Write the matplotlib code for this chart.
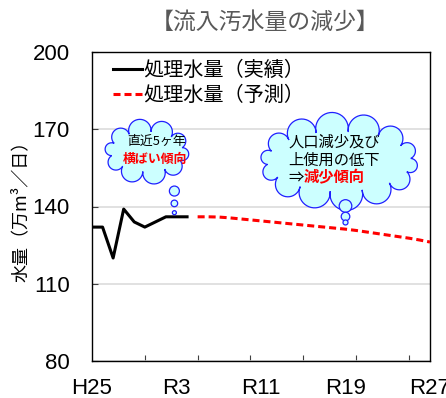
import numpy as np
import matplotlib
matplotlib.use("Agg")
import matplotlib.pyplot as plt
from matplotlib.patches import Polygon, Circle
from matplotlib.transforms import ScaledTranslation

plt.rcParams['font.family'] = ['Noto Sans CJK JP', 'DejaVu Sans']
NUM_FONT = ['Liberation Sans', 'DejaVu Sans']

# 処理水量（実績） 万m3/日
years_act = [2013, 2014, 2015, 2016, 2017, 2018, 2019, 2020, 2021, 2022]
flow_act = [132, 132, 120, 139, 134, 132, 134, 136, 136, 136]

# 処理水量（予測）
years_fc = list(range(2023, 2046))
flow_fc = [136.0, 136.0, 135.9, 135.6, 135.2, 134.8, 134.4, 134.0, 133.6,
           133.2, 132.8, 132.4, 132.0, 131.6, 131.2, 130.7, 130.1, 129.5,
           128.9, 128.3, 127.7, 127.0, 126.2]

xlabel_years = [2013, 2021, 2029, 2037, 2045]
xlabel_text = ['H25', 'R3', 'R11', 'R19', 'R27']
xminor_years = [2018, 2023, 2028, 2033, 2038, 2043]
yticks = [80, 110, 140, 170, 200]

fig = plt.figure(figsize=(4.46, 3.98), dpi=100)
ax = fig.add_axes([92 / 446, 37 / 398, 338 / 446, 309 / 398])

ax.plot(years_act, flow_act, color='black', lw=2.2, zorder=4,
        label='処理水量（実績）')
ax.plot(years_fc, flow_fc, color='#FF0000', lw=2.2, dashes=[2.3, 1.3],
        zorder=4, label='処理水量（予測）')

ax.set_xlim(2013, 2045)
ax.set_ylim(80, 200)
ax.set_yticks(yticks)
ax.set_xticks(xlabel_years)
ax.set_xticklabels(xlabel_text)
ax.set_xticks(xminor_years, minor=True)
ax.tick_params(axis='x', which='major', length=0, pad=12, labelsize=16)
ax.tick_params(axis='x', which='minor', direction='in', length=4.5,
               width=0.8, color='#404040')
ax.tick_params(axis='y', direction='in', length=4.5, width=0.8,
               color='#404040', pad=16, labelsize=16)
for lab in ax.get_xticklabels() + ax.get_yticklabels():
    lab.set_family(NUM_FONT)
ax.grid(axis='y', color='#D9D9D9', lw=1.1)
ax.set_axisbelow(True)
for sp in ax.spines.values():
    sp.set_linewidth(1.0)

ax.set_ylabel('水量（万m³／日）', fontsize=13)
ax.yaxis.label.set_va('center')
ax.yaxis.set_label_coords(-0.21, 0.5)

leg = ax.legend(loc='upper left', bbox_to_anchor=(0.062, 0.975), frameon=False,
                fontsize=14.5, handlelength=1.45, handletextpad=0.05,
                labelspacing=0.22, borderpad=0, borderaxespad=0)

fig.text(265 / 446, 1 - 22 / 398, '【流入汚水量の減少】', fontsize=16.5,
         color='#595959', ha='center', va='center')


def cloud(center, a, b, n, sweep=205, phase=0.2):
    t = np.linspace(0, 2 * np.pi, n, endpoint=False) + phase
    px, py = a * np.cos(t), b * np.sin(t)
    sw = np.radians(sweep)
    verts = []
    for i in range(n):
        p0 = np.array([px[i], py[i]])
        p1 = np.array([px[(i + 1) % n], py[(i + 1) % n]])
        d = p1 - p0
        c = np.hypot(*d)
        nrm = np.array([d[1], -d[0]]) / c
        r = c / 2 / np.sin(sw / 2)
        ctr = (p0 + p1) / 2 - nrm * r * np.cos(sw / 2)
        a0 = np.arctan2(p0[1] - ctr[1], p0[0] - ctr[0])
        ang = a0 + np.linspace(0, sw, 24)
        verts.extend(np.column_stack([ctr[0] + r * np.cos(ang),
                                      ctr[1] + r * np.sin(ang)]))
    tr = ScaledTranslation(center[0], center[1], ax.transData)
    ax.add_patch(Polygon(verts, closed=True, fc='#CCFFFF', ec='#2020FF',
                         lw=0.9, transform=tr, zorder=5, clip_on=False))


def bubbles(pts):
    for x, y, r in pts:
        tr = ScaledTranslation(x, y, ax.transData)
        ax.add_patch(Circle((0, 0), r, fc='#CCFFFF', ec='#2020FF', lw=0.9,
                            transform=tr, zorder=5, clip_on=False))


# 吹き出し（左）
cloud((2018.2, 161.3), 36, 20, 10)
bubbles([(2020.8, 146.0, 5.0), (2020.8, 141.2, 3.3), (2020.8, 137.6, 2.0)])
ax.text(2019.1, 165.3, '直近5ヶ年', fontsize=9.3, ha='center', va='center',
        zorder=6)
ax.text(2019.0, 158.6, '横ばい傾向', fontsize=9.3, color='#FF0000',
        fontweight='bold', ha='center', va='center', zorder=6)

# 吹き出し（右）
cloud((2036.4, 157.5), 72, 30, 14, phase=0.1)
bubbles([(2037.0, 140.2, 6.3), (2037.0, 136.1, 4.3), (2037.0, 133.8, 2.5)])
ax.text(2031.6, 165.0, '人口減少及び', fontsize=11, ha='left', va='center',
        zorder=6)
ax.text(2031.6, 158.1, '上使用の低下', fontsize=11, ha='left', va='center',
        zorder=6)
t1 = ax.text(2031.6, 151.4, '⇒', fontsize=11, ha='left', va='center',
             zorder=6)
ax.annotate('減少傾向', xy=(1, 0.5), xycoords=t1, fontsize=11,
            color='#FF0000', fontweight='bold', ha='left', va='center',
            zorder=6)

fig.savefig('out.png', dpi=100)
